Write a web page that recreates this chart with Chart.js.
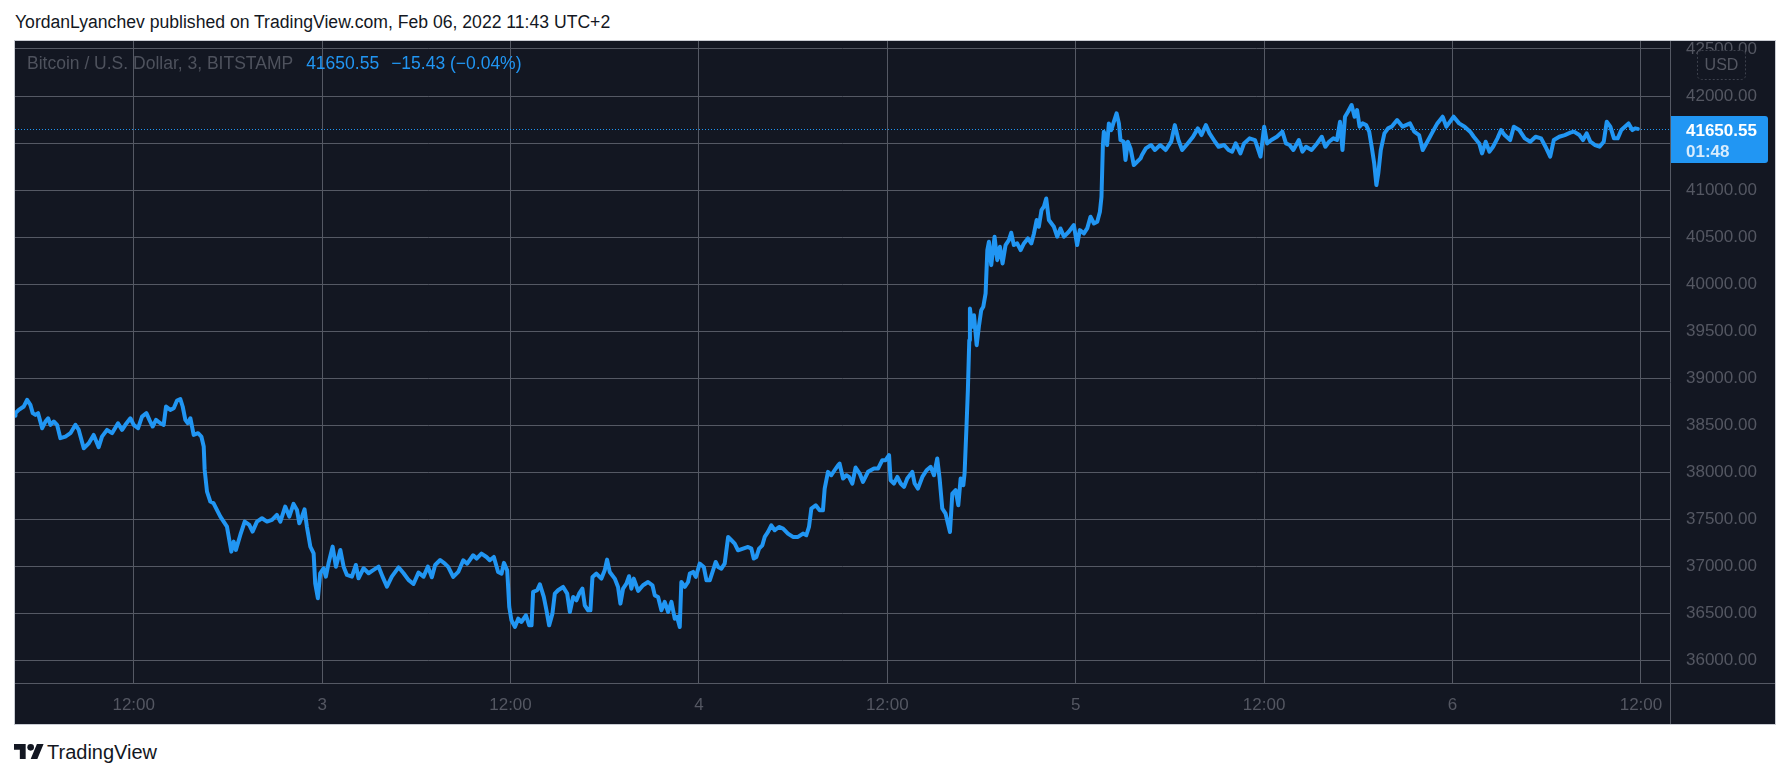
<!DOCTYPE html>
<html>
<head>
<meta charset="utf-8">
<title>BTCUSD 3m - TradingView snapshot</title>
<script src="https://cdn.jsdelivr.net/npm/chart.js@4.4.1/dist/chart.umd.min.js"></script>
<style>
  html, body { margin: 0; padding: 0; background: #ffffff; }
  body { width: 1791px; height: 778px; position: relative; overflow: hidden; font-family: "Liberation Sans", Arial, sans-serif; }
  #header { position: absolute; left: 15px; top: 12px; font-size: 17.6px; line-height: 20px; color: #131722; white-space: nowrap; }
  #frame { position: absolute; left: 14px; top: 40px; width: 1760px; height: 683px; border: 1px solid #c9ccd3; }
  #frame canvas { display: block; }
  #logo { position: absolute; left: 14px; top: 744px; }
  #brand { position: absolute; left: 47px; top: 741px; font-size: 20px; line-height: 22px; color: #131722; }
</style>
</head>
<body>
<div id="header">YordanLyanchev published on TradingView.com, Feb 06, 2022 11:43 UTC+2</div>
<div id="frame"><canvas id="btc-chart" width="1760" height="683"></canvas></div>
<svg id="logo" width="30" height="15" viewBox="0 4 36 18"><path fill="#131722" d="M14 22H7V11H0V4h14v18zM28 22h-8l7.5-18h8L28 22z"/><circle fill="#131722" cx="20" cy="8" r="4"/></svg>
<div id="brand">TradingView</div>

<script>
// Horas desde el 2 de febrero 00:00 (velas de 3 min, muestreadas a ojo)
const hours = [
    4.40, 4.47, 4.68, 5.00, 5.21, 5.42, 5.57, 5.74, 5.91, 6.17, 6.38, 6.55, 6.70, 6.91, 7.12, 7.33, 7.65, 7.97,
    8.29, 8.50, 8.82, 9.14, 9.45, 9.77, 9.98, 10.30, 10.62, 11.00, 11.26, 11.47, 11.79, 12.00, 12.28, 12.53,
    12.81, 13.00, 13.21, 13.42, 13.70, 13.91, 14.06, 14.33, 14.55, 14.76, 14.97, 15.12, 15.29, 15.44, 15.61,
    15.82, 16.10, 16.31, 16.46, 16.52, 16.67, 16.88, 17.09, 17.30, 17.52, 17.73, 17.94, 18.22, 18.37, 18.51,
    18.79, 19.07, 19.36, 19.57, 19.85, 20.17, 20.49, 20.81, 21.12, 21.34, 21.65, 21.91, 22.18, 22.40, 22.55,
    22.72, 22.88, 23.03, 23.25, 23.46, 23.56, 23.73, 23.88, 24.09, 24.24, 24.41, 24.67, 24.88, 25.16, 25.37,
    25.58, 25.90, 26.15, 26.32, 26.64, 26.96, 27.28, 27.60, 27.85, 28.13, 28.44, 28.87, 29.19, 29.50, 29.82,
    30.14, 30.46, 30.74, 30.99, 31.20, 31.52,
    31.82, 32.03, 32.35, 32.67, 32.99, 33.24, 33.62, 33.84, 34.15, 34.47, 34.68, 34.94, 35.21, 35.43, 35.58,
    35.79, 35.92, 36.06, 36.28, 36.49, 36.70, 36.98, 37.19, 37.34, 37.44, 37.70, 37.87, 38.12, 38.29, 38.46,
    38.67, 38.82, 39.03, 39.35, 39.61, 39.78, 39.99, 40.20, 40.37, 40.58, 40.73, 40.94, 41.09, 41.22, 41.47,
    41.79, 42.00, 42.15, 42.32, 42.64, 42.85, 43.00, 43.17, 43.38, 43.55, 43.70, 43.85, 44.13, 44.44, 44.76,
    45.04, 45.19, 45.40, 45.61, 45.82, 46.04, 46.25, 46.46, 46.61, 46.78, 46.88, 47.10, 47.31, 47.42, 47.63,
    47.80, 48.05, 48.31, 48.48, 48.69, 48.90, 49.07, 49.22, 49.43, 49.64, 49.86, 50.07, 50.28, 50.49, 50.81,
    51.13, 51.34, 51.49, 51.66, 51.83, 52.04, 52.19, 52.40, 52.61, 52.83, 53.10, 53.36, 53.67, 53.99, 54.31,
    54.63, 54.84, 55.01, 55.16, 55.44, 55.69, 55.90, 56.01, 56.22, 56.43, 56.64, 56.86, 56.96, 57.18, 57.39,
    57.56, 57.77, 57.98, 58.24, 58.45, 58.77,
    59.15, 59.41, 59.68, 59.89, 60.11, 60.21, 60.42, 60.64, 60.85, 61.06, 61.27, 61.59, 61.74, 61.95, 62.23,
    62.50, 62.76, 62.97, 63.18, 63.33, 63.50, 63.71, 63.86, 63.99, 64.14, 64.35, 64.52, 64.67, 64.84, 64.92,
    65.05, 65.13, 65.22, 65.26, 65.41, 65.52, 65.69, 65.83, 65.98, 66.11, 66.26, 66.37, 66.47, 66.62, 66.83,
    67.00, 67.17, 67.34, 67.53, 67.74, 67.89, 68.06, 68.27, 68.49, 68.70, 68.95, 69.17, 69.34, 69.51, 69.65,
    69.82, 69.97, 70.12, 70.29, 70.61, 70.82, 71.03, 71.25, 71.56, 71.88, 72.09, 72.26, 72.52, 72.73, 72.94,
    73.16, 73.37, 73.54, 73.64, 73.73, 73.79, 74.00, 74.11, 74.26, 74.43, 74.60, 74.75, 74.85, 75.06, 75.17,
    75.32, 75.49, 75.70, 75.91, 76.13,
    76.22, 76.46, 76.80, 77.04, 77.38, 77.73, 78.08, 78.31, 78.54, 78.78, 79.13, 79.47, 79.78, 80.01, 80.29,
    80.52, 80.87, 81.10, 81.45, 81.73, 81.96, 82.19, 82.49, 82.72, 83.07, 83.42, 83.77, 84.00, 84.19, 84.46,
    84.81, 85.16, 85.39, 85.62, 85.86, 86.21, 86.44, 86.67, 87.02, 87.37, 87.67, 87.90, 88.13, 88.41, 88.64,
    88.83, 88.99, 89.15, 89.34, 89.57, 89.76, 89.92, 90.08, 90.27, 90.50, 90.69, 90.85, 91.01, 91.15, 91.27,
    91.43, 91.66, 91.89, 92.12, 92.47, 92.82, 93.29, 93.56, 93.87, 94.10, 94.33, 94.68, 95.03, 95.37, 95.61,
    95.84, 96.07, 96.42, 96.77, 97.12, 97.35, 97.70, 97.88, 98.11, 98.35, 98.58, 98.86, 99.09, 99.32, 99.67,
    99.90, 100.25, 100.60, 100.95, 101.29, 101.64, 101.92, 102.22, 102.45, 102.80, 103.15, 103.50, 103.73,
    104.08, 104.31, 104.54, 104.78, 105.08, 105.36, 105.63, 105.82, 106.05, 106.28, 106.52, 106.75, 106.98,
    107.21, 107.45, 107.63, 107.80
];

const prices = [
    38600, 38628, 38663, 38699, 38770, 38716, 38628, 38610, 38628, 38468, 38539, 38574, 38504, 38539, 38504, 38362, 38379, 38415,
    38504, 38450, 38255, 38308, 38397, 38266, 38379, 38450, 38415, 38521, 38450, 38504, 38574, 38504, 38468, 38592,
    38628, 38557, 38486, 38557, 38521, 38504, 38699, 38663, 38681, 38762, 38777, 38699, 38557, 38521, 38574,
    38397, 38415, 38379, 38273, 38025, 37794, 37688, 37670, 37599, 37528, 37475, 37422, 37156, 37262, 37174,
    37333, 37475, 37440, 37369, 37475, 37511, 37475, 37493, 37546, 37475, 37635, 37528, 37663, 37599, 37457,
    37528, 37606, 37422, 37209, 37138, 36819, 36660, 36926, 36979, 36890, 37032, 37209, 36996, 37174, 36996,
    36908, 36890, 37014, 36872, 36979, 36926, 36961, 36996, 36890, 36784, 36890, 36989, 36926, 36855, 36812,
    36933, 36890, 36996, 36883, 37014, 37067,
    37028, 36993, 36887, 36940, 37064, 37028, 37117, 37082, 37135, 37099, 37064, 37099, 36940, 36922, 37036,
    36957, 36567, 36426, 36355, 36443, 36408, 36479, 36372, 36372, 36727, 36745, 36809, 36674, 36532, 36372,
    36497, 36709, 36745, 36780, 36709, 36514, 36674, 36638, 36709, 36762, 36585, 36532, 36532, 36887, 36922,
    36869, 36957, 37071, 36940, 36869, 36780, 36603, 36762, 36816, 36894, 36762, 36869, 36738, 36798, 36833,
    36798, 36691, 36674, 36532, 36621, 36514, 36621, 36443, 36461, 36355, 36833, 36780, 36833, 36922, 36940,
    36887, 37028, 36993, 36851, 36851, 36957, 37046, 36993, 36975, 37028, 37312, 37277, 37241, 37170, 37188,
    37206, 37188, 37082, 37099, 37188, 37223, 37312, 37365, 37436, 37383, 37418, 37401, 37348, 37312, 37312,
    37348, 37330, 37418, 37613, 37649, 37596, 37596, 37826, 38004, 37968, 38021, 38074, 38092, 37933, 37968,
    37950, 37879, 38050, 37986, 37897, 38004,
    38039, 38039, 38128, 38128, 38181, 37915, 37880, 37950, 37880, 37844, 37933, 38004, 37880, 37826, 37950,
    38021, 38057, 37968, 38146, 37933, 37614, 37560, 37454, 37365, 37773, 37809, 37649, 37933, 37862, 37986,
    38518, 38872, 39404, 39741, 39546, 39670, 39351, 39546, 39723, 39759, 39901, 40362, 40450, 40202, 40504,
    40255, 40397, 40220, 40415, 40468, 40546, 40415, 40433, 40362, 40433, 40486, 40433, 40539, 40681, 40610,
    40787, 40823, 40911, 40681, 40610, 40504, 40592, 40504, 40557, 40628, 40415, 40574, 40539, 40592, 40716,
    40645, 40663, 40770, 40929, 41479, 41621, 41479, 41709, 41638, 41727, 41816, 41709, 41532, 41514, 41319,
    41514, 41443, 41266, 41301, 41337,
    41372, 41443, 41479, 41426, 41479, 41426, 41514, 41691, 41532, 41426, 41496, 41567, 41656, 41585, 41691,
    41603, 41514, 41461, 41479, 41426, 41408, 41496, 41390, 41496, 41550, 41532, 41355, 41674, 41496, 41532,
    41567, 41621, 41496, 41479, 41426, 41532, 41408, 41461, 41426, 41496, 41567, 41461, 41514, 41550, 41532,
    41727, 41426, 41780, 41833, 41904, 41780, 41851, 41674, 41709, 41691, 41621, 41461, 41284, 41053, 41177,
    41426, 41603, 41656, 41674, 41745, 41674, 41709, 41621, 41585, 41426, 41496, 41603, 41709, 41780, 41674,
    41727, 41780, 41709, 41674, 41621, 41567, 41496, 41390, 41514, 41408, 41461, 41550, 41638, 41585, 41532,
    41674, 41638, 41550, 41514, 41567, 41550, 41461, 41355, 41532, 41567, 41585, 41610, 41621,
    41585, 41532, 41603, 41514, 41479, 41461, 41514, 41727, 41674, 41550, 41550, 41638, 41674,
    41709, 41638, 41656, 41650.55
];

const xTickValues = [12, 24, 36, 48, 60, 72, 84, 96, 108];
const xTickLabels = ['12:00', '3', '12:00', '4', '12:00', '5', '12:00', '6', '12:00'];
const yTickValues = [36000, 36500, 37000, 37500, 38000, 38500, 39000, 39500, 40000, 40500, 41000, 41500, 42000, 42500];

const symbolTitle = 'Bitcoin / U.S. Dollar, 3, BITSTAMP';
const lastPrice = 41650.55;
const priceChange = '\u221215.43 (\u22120.04%)';
const countdown = '01:48';
const currency = 'USD';

const BG = '#131722';
const BLUE = '#2196f3';
const GRID = '#555964';
const AXIS_TEXT = '#545762';
const FONT = '"Liberation Sans", Arial, sans-serif';

const tvOverlay = {
    id: 'tvOverlay',
    beforeDraw(chart) {
        const ctx = chart.ctx;
        ctx.save();
        ctx.fillStyle = BG;
        ctx.fillRect(0, 0, chart.width, chart.height);
        ctx.restore();
    },
    beforeDatasetsDraw(chart) {
        // línea punteada del último precio
        const ctx = chart.ctx;
        const area = chart.chartArea;
        const y = Math.round(chart.scales.y.getPixelForValue(lastPrice)) + 0.5;
        ctx.save();
        ctx.strokeStyle = BLUE;
        ctx.lineWidth = 1;
        ctx.setLineDash([1, 2]);
        ctx.beginPath();
        ctx.moveTo(area.left, y);
        ctx.lineTo(area.right, y);
        ctx.stroke();
        ctx.restore();
    },
    afterDraw(chart) {
        const ctx = chart.ctx;
        const area = chart.chartArea;
        ctx.save();

        // separadores de ejes
        ctx.strokeStyle = GRID;
        ctx.lineWidth = 1;
        ctx.beginPath();
        ctx.moveTo(area.right + 0.5, 0);
        ctx.lineTo(area.right + 0.5, chart.height);
        ctx.moveTo(0, area.bottom + 0.5);
        ctx.lineTo(chart.width, area.bottom + 0.5);
        ctx.stroke();

        // etiqueta del último precio
        const py = chart.scales.y.getPixelForValue(lastPrice);
        const bx = area.right + 1;
        ctx.fillStyle = BLUE;
        ctx.beginPath();
        ctx.roundRect(bx, py - 13, 97, 47, [0, 3, 3, 0]);
        ctx.fill();
        ctx.fillStyle = '#ffffff';
        ctx.font = 'bold 17px ' + FONT;
        ctx.textBaseline = 'alphabetic';
        ctx.textAlign = 'left';
        ctx.fillText(lastPrice.toFixed(2), area.right + 16, py + 7);
        ctx.fillStyle = 'rgba(255,255,255,0.82)';
        ctx.fillText(countdown, area.right + 16, py + 28);

        // insignia de la moneda
        ctx.fillStyle = BG;
        ctx.strokeStyle = '#3e424d';
        ctx.setLineDash([2, 2]);
        ctx.beginPath();
        ctx.roundRect(area.right + 27.5, 9.5, 48, 29, 4);
        ctx.fill();
        ctx.stroke();
        ctx.setLineDash([]);
        ctx.fillStyle = AXIS_TEXT;
        ctx.font = '16px ' + FONT;
        ctx.textAlign = 'center';
        ctx.textBaseline = 'middle';
        ctx.fillText(currency, area.right + 51.5, 24.5);

        // leyenda del símbolo
        ctx.textAlign = 'left';
        ctx.textBaseline = 'alphabetic';
        ctx.font = '17.5px ' + FONT;
        let x = area.left + 12;
        ctx.fillStyle = '#4e525d';
        ctx.fillText(symbolTitle, x, 28);
        x += ctx.measureText(symbolTitle).width + 13;
        ctx.fillStyle = BLUE;
        ctx.fillText(lastPrice.toFixed(2), x, 28);
        x += ctx.measureText(lastPrice.toFixed(2)).width + 12;
        ctx.fillText(priceChange, x, 28);

        ctx.restore();
    }
};

const chartCtx = document.getElementById('btc-chart');

new Chart(chartCtx, {
    type: 'line',
    data: {
        datasets: [{
            data: hours.map((h, i) => ({ x: h, y: prices[i] })),
            borderColor: BLUE,
            borderWidth: 4,
            borderJoinStyle: 'round',
            borderCapStyle: 'round',
            pointRadius: 0,
            tension: 0,
            fill: false
        }]
    },
    options: {
        responsive: false,
        animation: false,
        devicePixelRatio: 1,
        layout: { padding: 0, autoPadding: false },
        plugins: {
            legend: { display: false },
            tooltip: { enabled: false }
        },
        scales: {
            x: {
                type: 'linear',
                position: 'bottom',
                min: 4.44,
                max: 109.85,
                afterBuildTicks: (scale) => { scale.ticks = xTickValues.map(v => ({ value: v })); },
                afterFit: (scale) => { scale.height = 41; scale.paddingLeft = 0; scale.paddingRight = 0; },
                grid: { color: GRID, drawTicks: false },
                border: { display: false },
                ticks: {
                    autoSkip: false,
                    maxRotation: 0,
                    minRotation: 0,
                    padding: 12,
                    color: AXIS_TEXT,
                    font: { family: FONT, size: 17 },
                    callback: (value, index) => xTickLabels[index]
                }
            },
            y: {
                position: 'right',
                min: 35759,
                max: 42585,
                afterBuildTicks: (scale) => { scale.ticks = yTickValues.map(v => ({ value: v })); },
                afterFit: (scale) => { scale.width = 105; scale.paddingTop = 0; scale.paddingBottom = 0; },
                grid: { color: GRID, drawTicks: false },
                border: { display: false },
                ticks: {
                    padding: 16,
                    crossAlign: 'near',
                    color: AXIS_TEXT,
                    font: { family: FONT, size: 17 },
                    callback: (value) => Number(value).toFixed(2)
                }
            }
        }
    },
    plugins: [tvOverlay]
});
</script>
</body>
</html>
